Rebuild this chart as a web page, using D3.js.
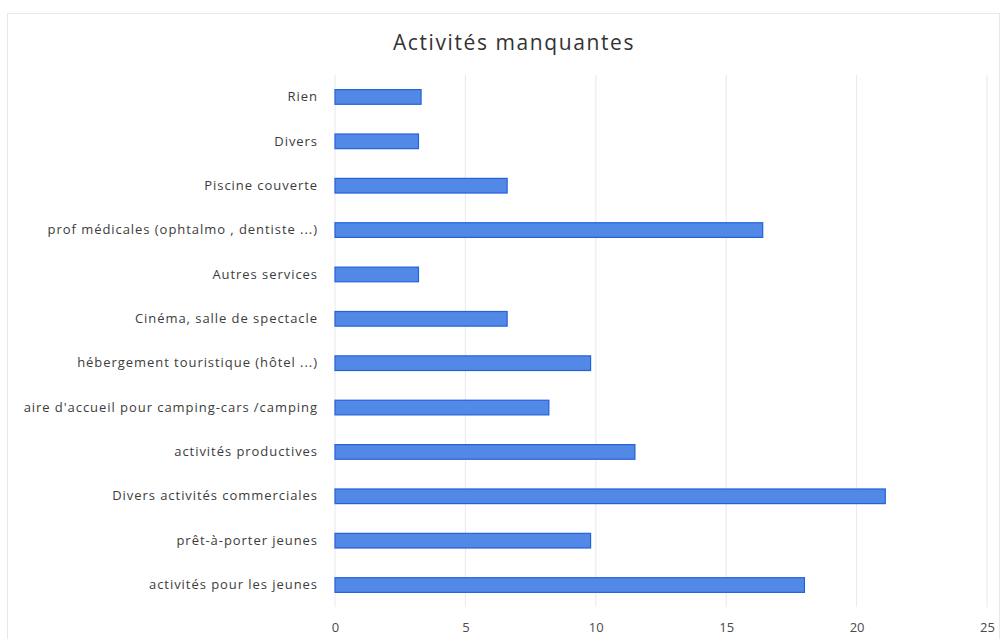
<!DOCTYPE html>
<html lang="fr">
<head>
<meta charset="utf-8">
<script src="https://cdn.jsdelivr.net/npm/d3@7"></script>
<style>
  html, body { margin: 0; padding: 0; background: #fff; }
  svg { display: block; }
  text { font-family: "Open Sans", Lato, "Noto Sans", sans-serif; }
</style>
</head>
<body>
<svg id="chart" width="1006" height="639"></svg>
<script>
// Categories, top to bottom
const categories = [
  "Rien",
  "Divers",
  "Piscine couverte",
  "prof médicales (ophtalmo , dentiste ...)",
  "Autres services",
  "Cinéma, salle de spectacle",
  "hébergement touristique (hôtel ...)",
  "aire d'accueil pour camping-cars /camping",
  "activités productives",
  "Divers activités commerciales",
  "prêt-à-porter jeunes",
  "activités pour les jeunes"
];
// Values for each category (same order)
const values = [3.3, 3.2, 6.6, 16.4, 3.2, 6.6, 9.8, 8.2, 11.5, 21.1, 9.8, 18.0];
// Horizontal axis ticks
const xTicks = [0, 5, 10, 15, 20, 25];
const title = "Activités manquantes";

const svg = d3.select("#chart");
const W = 1006, H = 639;
const margin = { left: 335, right: 19, top: 75, bottom: 32 };

// chart frame
svg.append("rect")
  .attr("x", 7.5).attr("y", 13.5)
  .attr("width", 992).attr("height", 640)
  .attr("fill", "none")
  .attr("stroke", "#e8e8e8")
  .attr("stroke-width", 1);

const x = d3.scaleLinear()
  .domain([0, 25])
  .range([margin.left, W - margin.right]);

const y = d3.scaleBand()
  .domain(categories)
  .range([margin.top, H - margin.bottom])
  .paddingInner(0.67)
  .paddingOuter(0.33);

// vertical gridlines
svg.append("g")
  .selectAll("line")
  .data(xTicks)
  .join("line")
  .attr("x1", d => x(d)).attr("x2", d => x(d))
  .attr("y1", margin.top).attr("y2", H - margin.bottom)
  .attr("stroke", "#e8e8ee")
  .attr("stroke-width", 1);

// bars
svg.append("g")
  .selectAll("rect")
  .data(categories)
  .join("rect")
  .attr("x", x(0))
  .attr("y", d => y(d))
  .attr("width", (d, i) => x(values[i]) - x(0))
  .attr("height", y.bandwidth())
  .attr("fill", "#5389e6")
  .attr("stroke", "#2461d9")
  .attr("stroke-width", 1.2);

// category axis (labels only)
const yAxis = d3.axisLeft(y).tickSize(0).tickPadding(17);
const gy = svg.append("g")
  .attr("transform", `translate(${x(0)},0)`)
  .call(yAxis);
gy.select(".domain").remove();
gy.selectAll("text")
  .attr("font-size", 13)
  .attr("fill", "#3c3c3c")
  .attr("letter-spacing", 0.95)
  .style("font-family", "'Open Sans', Lato, sans-serif");

// value axis (labels only)
const xAxis = d3.axisBottom(x).tickValues(xTicks).tickSize(0).tickPadding(16);
const gx = svg.append("g")
  .attr("transform", `translate(0,${H - margin.bottom})`)
  .call(xAxis);
gx.select(".domain").remove();
gx.selectAll("text")
  .attr("font-size", 13)
  .attr("fill", "#4a4a4a")
  .style("font-family", "'Open Sans', Lato, sans-serif");

// title
svg.append("text")
  .attr("x", 514)
  .attr("y", 50)
  .attr("text-anchor", "middle")
  .attr("font-size", 21)
  .attr("letter-spacing", 1.6)
  .attr("fill", "#333")
  .text(title);
</script>
</body>
</html>
